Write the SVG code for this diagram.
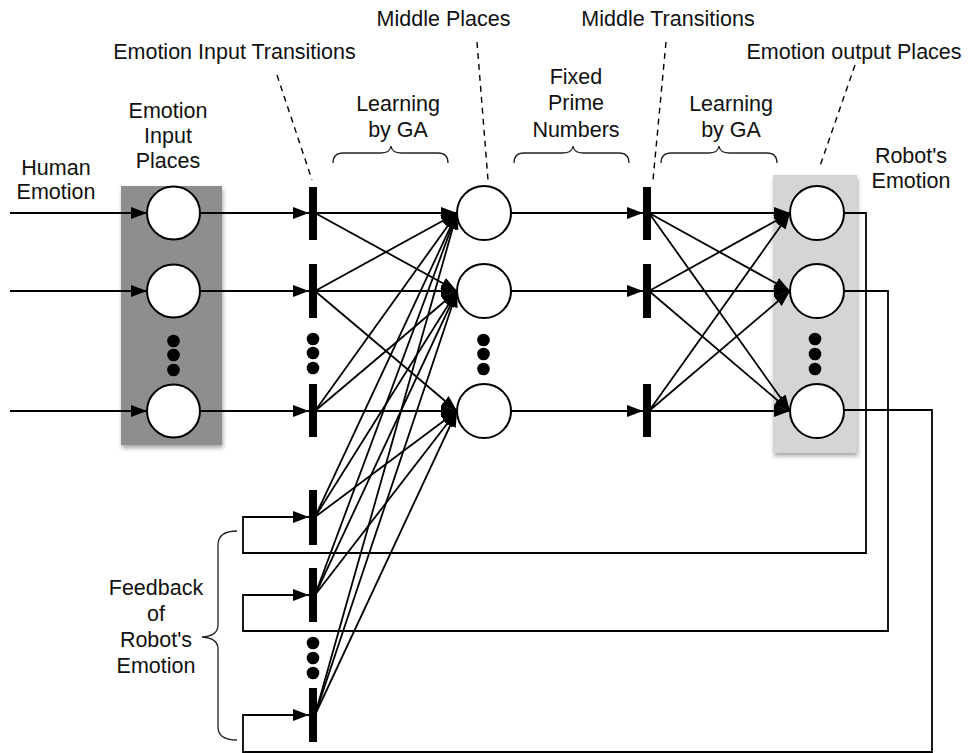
<svg xmlns="http://www.w3.org/2000/svg" width="970" height="753" viewBox="0 0 970 753">
  <style>
    text { font-family: "Liberation Sans", Arial, Helvetica, sans-serif; font-size: 21.5px; fill: #111111; text-anchor: middle; }
    .place { fill: #ffffff; stroke: #000000; stroke-width: 2; }
    .bar { fill: #000000; }
    .dot { fill: #000000; }
    .arc { fill: none; stroke: #000000; stroke-width: 1.8; marker-end: url(#head); }
    .lead { fill: none; stroke: #000000; stroke-width: 1.4; stroke-dasharray: 6 5; }
    .brace { fill: none; stroke: #222222; stroke-width: 1.3; }
  </style>
  <defs>
    <marker id="head" markerUnits="userSpaceOnUse" markerWidth="17" markerHeight="13" refX="16" refY="6" orient="auto">
      <path d="M0,0 L16,6 L0,12 z" fill="#000000"/>
    </marker>
    <filter id="shadow" x="-10%" y="-5%" width="130%" height="115%">
      <feDropShadow dx="1" dy="3" stdDeviation="2" flood-color="#000000" flood-opacity="0.35"/>
    </filter>
  </defs>

  <rect width="970" height="753" fill="#ffffff"/>

  <!-- shaded groupings of input and output places -->
  <rect id="input-panel" x="121" y="186" width="101" height="259" fill="#8e8e8e" filter="url(#shadow)"/>
  <rect id="output-panel" x="773" y="175" width="84" height="278" fill="#d5d5d5" filter="url(#shadow)"/>

  <!-- connectors -->
  <g id="connectors">
    <!-- human emotion inputs -->
    <line class="arc" x1="10" y1="213" x2="147" y2="213"/>
    <line class="arc" x1="10" y1="291" x2="147" y2="291"/>
    <line class="arc" x1="10" y1="411" x2="147" y2="411"/>
    <!-- input places to input transitions -->
    <line class="arc" x1="200" y1="213" x2="309" y2="213"/>
    <line class="arc" x1="200" y1="291" x2="309" y2="291"/>
    <line class="arc" x1="200" y1="411" x2="309" y2="411"/>
    <!-- input transitions to middle places -->
    <line class="arc" x1="315" y1="213" x2="457" y2="213"/>
    <line class="arc" x1="315" y1="213" x2="457" y2="291"/>
    <line class="arc" x1="315" y1="291" x2="457" y2="213"/>
    <line class="arc" x1="315" y1="291" x2="457" y2="291"/>
    <line class="arc" x1="315" y1="291" x2="457" y2="411"/>
    <line class="arc" x1="315" y1="411" x2="457" y2="213"/>
    <line class="arc" x1="315" y1="411" x2="457" y2="291"/>
    <line class="arc" x1="315" y1="411" x2="457" y2="411"/>
    <!-- feedback transitions to middle places -->
    <line class="arc" x1="315" y1="517" x2="457" y2="213"/>
    <line class="arc" x1="315" y1="517" x2="457" y2="291"/>
    <line class="arc" x1="315" y1="517" x2="457" y2="411"/>
    <line class="arc" x1="315" y1="595" x2="457" y2="213"/>
    <line class="arc" x1="315" y1="595" x2="457" y2="291"/>
    <line class="arc" x1="315" y1="595" x2="457" y2="411"/>
    <line class="arc" x1="315" y1="715" x2="457" y2="213"/>
    <line class="arc" x1="315" y1="715" x2="457" y2="291"/>
    <line class="arc" x1="315" y1="715" x2="457" y2="411"/>
    <!-- middle places to middle transitions -->
    <line class="arc" x1="511" y1="213" x2="643" y2="213"/>
    <line class="arc" x1="511" y1="291" x2="643" y2="291"/>
    <line class="arc" x1="511" y1="411" x2="643" y2="411"/>
    <!-- middle transitions to output places -->
    <line class="arc" x1="649" y1="213" x2="790" y2="213"/>
    <line class="arc" x1="649" y1="213" x2="790" y2="291"/>
    <line class="arc" x1="649" y1="213" x2="790" y2="411"/>
    <line class="arc" x1="649" y1="291" x2="790" y2="213"/>
    <line class="arc" x1="649" y1="291" x2="790" y2="291"/>
    <line class="arc" x1="649" y1="291" x2="790" y2="411"/>
    <line class="arc" x1="649" y1="411" x2="790" y2="213"/>
    <line class="arc" x1="649" y1="411" x2="790" y2="291"/>
    <line class="arc" x1="649" y1="411" x2="790" y2="411"/>
    <!-- feedback loops from output places -->
    <polyline class="arc" points="844,213 866,213 866,553 243,553 243,517 309,517"/>
    <polyline class="arc" points="844,291 888,291 888,631 243,631 243,595 309,595"/>
    <polyline class="arc" points="844,410 932,410 932,752 243,752 243,715 309,715"/>
  </g>

  <!-- input places -->
  <g id="input-places">
    <circle id="ip1" class="place" cx="173.5" cy="213" r="26.5"/>
    <circle id="ip2" class="place" cx="173.5" cy="291" r="26.5"/>
    <circle id="ip3" class="place" cx="173.5" cy="411" r="26.5"/>
    <circle class="dot" cx="173.5" cy="341" r="6.3"/>
    <circle class="dot" cx="173.5" cy="355" r="6.3"/>
    <circle class="dot" cx="173.5" cy="370" r="6.3"/>
  </g>

  <!-- input transitions -->
  <g id="input-transitions">
    <rect id="it1" class="bar" x="309" y="187" width="8" height="53"/>
    <rect id="it2" class="bar" x="309" y="264" width="8" height="54"/>
    <rect id="it3" class="bar" x="309" y="384" width="8" height="53"/>
    <circle class="dot" cx="313" cy="339" r="6.3"/>
    <circle class="dot" cx="313" cy="353" r="6.3"/>
    <circle class="dot" cx="313" cy="368" r="6.3"/>
    <rect id="it4" class="bar" x="309" y="490" width="8" height="55"/>
    <rect id="it5" class="bar" x="309" y="568" width="8" height="54"/>
    <rect id="it6" class="bar" x="309" y="688" width="8" height="54"/>
    <circle class="dot" cx="313" cy="643" r="6.3"/>
    <circle class="dot" cx="313" cy="658" r="6.3"/>
    <circle class="dot" cx="313" cy="673" r="6.3"/>
  </g>

  <!-- middle places -->
  <g id="middle-places">
    <circle id="mp1" class="place" cx="484" cy="213" r="27"/>
    <circle id="mp2" class="place" cx="484" cy="291" r="27"/>
    <circle id="mp3" class="place" cx="484" cy="411" r="27"/>
    <circle class="dot" cx="483.5" cy="340" r="6.3"/>
    <circle class="dot" cx="483.5" cy="354" r="6.3"/>
    <circle class="dot" cx="483.5" cy="369" r="6.3"/>
  </g>

  <!-- middle transitions -->
  <g id="middle-transitions">
    <rect id="mt1" class="bar" x="643" y="187" width="8" height="53"/>
    <rect id="mt2" class="bar" x="643" y="264" width="8" height="54"/>
    <rect id="mt3" class="bar" x="643" y="384" width="8" height="53"/>
  </g>

  <!-- output places -->
  <g id="output-places">
    <circle id="op1" class="place" cx="817" cy="213" r="27"/>
    <circle id="op2" class="place" cx="817" cy="291" r="27"/>
    <circle id="op3" class="place" cx="817" cy="411" r="27"/>
    <circle class="dot" cx="815" cy="339" r="6.3"/>
    <circle class="dot" cx="815" cy="354" r="6.3"/>
    <circle class="dot" cx="815" cy="369" r="6.3"/>
  </g>

  <!-- callout leaders -->
  <g id="leaders">
    <line class="lead" x1="277" y1="75" x2="312" y2="180"/>
    <line class="lead" x1="477" y1="42" x2="488" y2="180"/>
    <line class="lead" x1="666" y1="42" x2="653" y2="180"/>
    <line class="lead" x1="855" y1="65" x2="820" y2="166"/>
  </g>

  <!-- braces -->
  <g id="braces">
    <path class="brace" d="M333,163 Q333,153 343,153 L381,153 Q390,153 391,146 Q392,153 401,153 L438,153 Q448,153 448,163"/>
    <path class="brace" d="M514,163 Q514,153 524,153 L563,153 Q572,153 573,146 Q574,153 583,153 L619,153 Q629,153 629,163"/>
    <path class="brace" d="M661,163 Q661,153 671,153 L709,153 Q718,153 719,146 Q720,153 729,153 L767,153 Q777,153 777,163"/>
    <path class="brace" d="M237,531 Q218,531 218,545 L218,625 Q218,636 202,637 Q218,638 218,649 L218,727 Q218,740 237,740"/>
  </g>

  <!-- labels -->
  <g id="labels">
    <text x="443.5" y="26">Middle Places</text>
    <text x="668" y="26">Middle Transitions</text>
    <text x="234.5" y="59">Emotion Input Transitions</text>
    <text x="854" y="59">Emotion output Places</text>
    <text x="168" y="118">Emotion</text>
    <text x="168" y="143">Input</text>
    <text x="168" y="168">Places</text>
    <text x="56" y="175">Human</text>
    <text x="56" y="199">Emotion</text>
    <text x="398" y="111">Learning</text>
    <text x="398" y="137">by GA</text>
    <text x="576" y="84">Fixed</text>
    <text x="576" y="110">Prime</text>
    <text x="576" y="137">Numbers</text>
    <text x="731" y="111">Learning</text>
    <text x="731" y="137">by GA</text>
    <text x="911" y="163">Robot's</text>
    <text x="911" y="188">Emotion</text>
    <text x="156" y="595">Feedback</text>
    <text x="156" y="621">of</text>
    <text x="156" y="647">Robot's</text>
    <text x="156" y="673">Emotion</text>
  </g>
</svg>
